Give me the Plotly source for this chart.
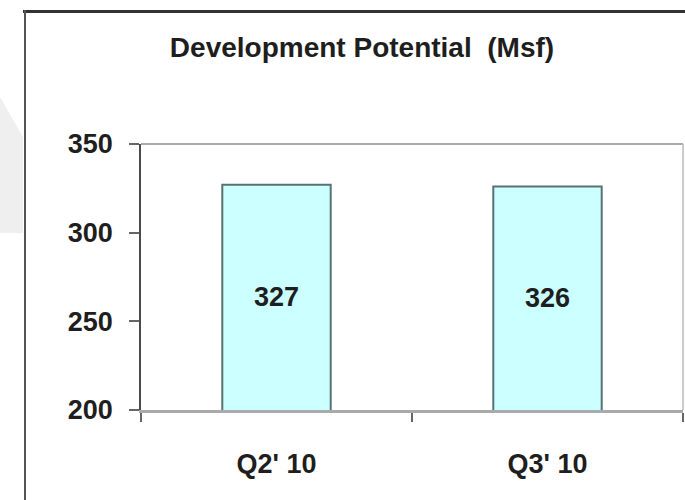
import plotly.graph_objects as go

# Development potential by quarter (million square feet)
quarters = ["Q2' 10", "Q3' 10"]
potential_msf = [327, 326]
y_ticks = [200, 250, 300, 350]

Y_MIN, Y_MAX = 200, 350

W, H = 685, 500
M_L, M_R, M_T, M_B = 141, 2, 144, 90
PW = W - M_L - M_R
PH = H - M_T - M_B


def px(x):
    """Pixel column -> paper x."""
    return (x - M_L) / PW


def py(y):
    """Pixel row -> paper y."""
    return (H - M_B - y) / PH


FONT = "Liberation Sans, Arial, sans-serif"
TEXT = "#1e1e1e"

fig = go.Figure()
fig.add_trace(
    go.Bar(
        x=quarters,
        y=potential_msf,
        width=0.4,
        marker=dict(color="#ccffff", line=dict(color="#587272", width=2)),
        showlegend=False,
        hoverinfo="x+y",
    )
)

# value labels centred in the visible part of each bar
for q, v in zip(quarters, potential_msf):
    fig.add_annotation(
        x=q, y=(Y_MIN + v) / 2, text=str(v), showarrow=False,
        font=dict(family=FONT, size=27, color=TEXT, weight="bold"),
    )

shapes = [
    # pale grey panel peeking out behind the frame
    dict(type="path", xref="paper", yref="paper", layer="below",
         path=f"M {px(0)} {py(97)} L {px(23)} {py(137)} L {px(23)} {py(233)} L {px(0)} {py(233)} Z",
         fillcolor="#efefef", line=dict(width=0)),
    # outer frame: top and left edges
    dict(type="line", xref="paper", yref="paper",
         x0=px(23), x1=px(686), y0=py(11.5), y1=py(11.5),
         line=dict(color="#333333", width=3)),
    dict(type="line", xref="paper", yref="paper",
         x0=px(25), x1=px(25), y0=py(10), y1=py(501),
         line=dict(color="#555555", width=2)),
    # plot area top and right edges
    dict(type="line", xref="paper", yref="paper",
         x0=0, x1=1, y0=1, y1=1, line=dict(color="#aaaaaa", width=2)),
    dict(type="line", xref="paper", yref="paper",
         x0=1, x1=1, y0=0, y1=1, line=dict(color="#bbbbbb", width=1.5)),
]

fig.update_layout(
    width=W, height=H,
    margin=dict(l=M_L, r=M_R, t=M_T, b=M_B, pad=0),
    paper_bgcolor="white", plot_bgcolor="white",
    font=dict(family=FONT, size=27, color=TEXT, weight="bold"),
    title=dict(
        text="Development Potential  (Msf)",
        x=362 / W, xanchor="center",
        y=1 - 47 / H, yanchor="middle", yref="container",
        font=dict(family=FONT, size=28, color=TEXT, weight="bold"),
    ),
    shapes=shapes,
    bargap=0.6,
)

fig.update_yaxes(
    range=[Y_MIN, Y_MAX], tickvals=y_ticks, ticktext=[str(t) for t in y_ticks],
    showgrid=False, zeroline=False,
    showline=True, linecolor="#4a4a4a", linewidth=1.5,
    ticks="outside", ticklen=10, tickcolor="#666666", tickwidth=1.5,
    ticklabelstandoff=11,
    tickfont=dict(family=FONT, size=27, color=TEXT, weight="bold"),
)
fig.update_xaxes(
    type="category", showgrid=False, zeroline=False,
    showline=True, linecolor="#aaaaaa", linewidth=2.5,
    ticks="outside", tickson="boundaries", ticklen=9,
    tickcolor="#666666", tickwidth=2,
    ticklabelstandoff=28,
    tickfont=dict(family=FONT, size=27, color=TEXT, weight="bold"),
)

fig.write_html("out.html")
